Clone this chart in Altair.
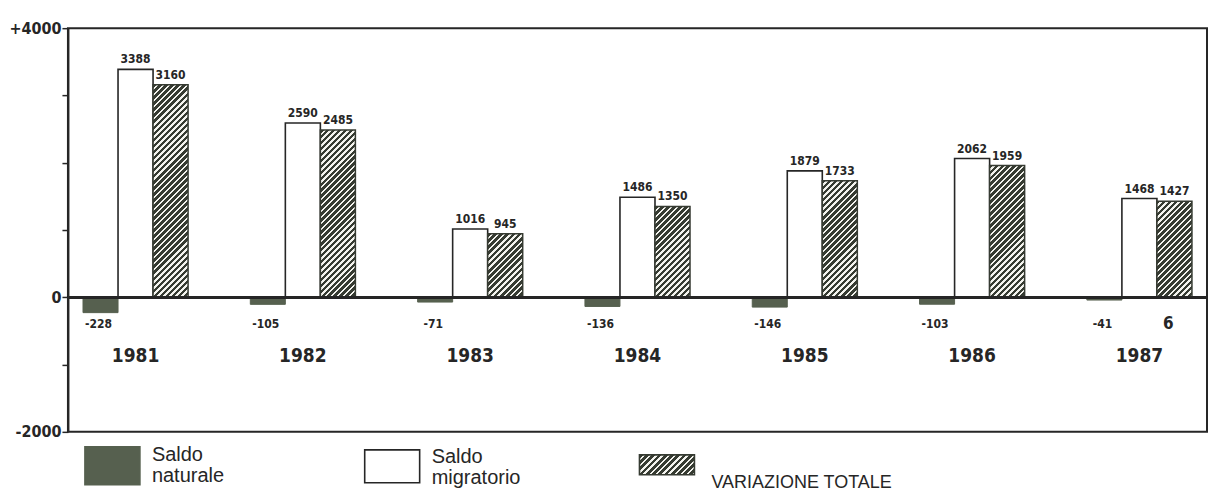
import altair as alt
import pandas as pd

# ---------------- data ----------------
years = ["1981", "1982", "1983", "1984", "1985", "1986", "1987"]
saldo_naturale = [-228, -105, -71, -136, -146, -103, -41]
saldo_migratorio = [3388, 2590, 1016, 1486, 1879, 2062, 1468]
variazione_totale = [3160, 2485, 945, 1350, 1733, 1959, 1427]
series_names = ["Saldo naturale", "Saldo migratorio", "VARIAZIONE TOTALE"]
legend_texts = ["Saldo\nnaturale", "Saldo\nmigratorio", "VARIAZIONE TOTALE"]
y_ticks = [-2000, -1000, 0, 1000, 2000, 3000, 4000]
y_tick_labels = {4000: "+4000", 0: "0", -2000: "-2000"}
note_year = "1987"
note_text = "6"

# ---------------- styling ----------------
W, H = 1140, 404
Y_MIN, Y_MAX = -2000, 4000
P_INNER, P_OUTER = 0.372, 0.09
NAT = "#56604f"
DARK = "#363b32"
LIGHT = "#f3f3ee"
INK = "#262626"
FONT_C = "Liberation Sans Narrow, DejaVu Sans Condensed, Roboto Condensed, Liberation Sans, sans-serif"
FONT_L = "Liberation Sans, Arial, sans-serif"

rows = []
for i, yr in enumerate(years):
    for s, vals in zip(series_names, [saldo_naturale, saldo_migratorio, variazione_totale]):
        rows.append({"year": yr, "series": s, "value": vals[i], "label": str(vals[i])})
df = pd.DataFrame(rows)

step = W / (len(years) - P_INNER + 2 * P_OUTER)
bar_w = step * (1 - P_INNER) / len(series_names)
px_per_unit = H / (Y_MAX - Y_MIN)


def hatch(w, h, period=6.0, frac=0.6):
    n = max(1, round((w + h) / period))
    stops = []
    for i in range(n):
        a, b, c = i / n, (i + frac) / n, (i + 1) / n
        stops += [
            {"offset": a, "color": DARK},
            {"offset": b, "color": DARK},
            {"offset": b, "color": LIGHT},
            {"offset": c, "color": LIGHT},
        ]
    d = w * w + h * h
    return {"gradient": "linear", "x1": 0, "y1": 0,
            "x2": w * (w + h) / d, "y2": h * (w + h) / d, "stops": stops}


label_expr = " : ".join(
    [f"datum.value == {k} ? '{v}'" for k, v in y_tick_labels.items()]) + " : ''"

yscale = alt.Scale(domain=[Y_MIN, Y_MAX], nice=False, zero=False)
yaxis = alt.Axis(values=y_ticks, labelExpr=label_expr, title=None, grid=False,
                 tickSize=6, tickColor=INK, tickWidth=1.5, domainColor=INK,
                 domainWidth=2, labelFont=FONT_C, labelFontSize=16,
                 labelFontWeight="bold", labelColor=INK, labelPadding=1)

X = alt.X("year:N", sort=years, axis=None,
          scale=alt.Scale(domain=years, paddingInner=P_INNER, paddingOuter=P_OUTER))
XO = alt.XOffset("series:N", sort=series_names,
                 scale=alt.Scale(domain=series_names, paddingInner=0, paddingOuter=0))

base = alt.Chart(df).encode(x=X, xOffset=XO)

nat = base.transform_filter(alt.datum.series == series_names[0]).mark_bar(
    fill=NAT, stroke=NAT, strokeWidth=1).encode(
    y=alt.Y("value:Q", scale=yscale, axis=yaxis))

mig = base.transform_filter(alt.datum.series == series_names[1]).mark_bar(
    fill="white", stroke=INK, strokeWidth=1.6).encode(
    y=alt.Y("value:Q", scale=yscale))

tot_layers = []
for yr, v in zip(years, variazione_totale):
    g = hatch(bar_w, v * px_per_unit)
    tot_layers.append(
        base.transform_filter(
            (alt.datum.series == series_names[2]) & (alt.datum.year == yr)
        ).mark_bar(fill=g, stroke=DARK, strokeWidth=1.5).encode(
            y=alt.Y("value:Q", scale=yscale))
    )

zero = alt.Chart(df).mark_rule(color=INK, strokeWidth=2).encode(y=alt.datum(0))

pos_labels = base.transform_filter(alt.datum.value > 0).mark_text(
    font=FONT_C, fontSize=12, fontWeight="bold", color=INK, baseline="bottom", dy=-3
).encode(y=alt.Y("value:Q", scale=yscale), text="label:N")

neg_labels = base.transform_filter(alt.datum.value < 0).mark_text(
    font=FONT_C, fontSize=12, fontWeight="bold", color=INK, baseline="middle", dx=-2
).encode(y=alt.datum(-400), text="label:N")

year_df = pd.DataFrame({"year": years})
year_labels = alt.Chart(year_df).mark_text(
    font=FONT_C, fontSize=19, fontWeight="bold", color=INK, baseline="middle"
).encode(x=X, y=alt.datum(-880), text="year:N")

note = alt.Chart(df).transform_filter(
    (alt.datum.series == series_names[2]) & (alt.datum.year == note_year)
).mark_text(font=FONT_C, fontSize=17, fontWeight="bold", color=INK,
            baseline="middle", dx=-6).encode(
    x=X, xOffset=XO, y=alt.datum(-400), text=alt.value(note_text))

# ---------------- manual legend below the frame ----------------
leg_df = pd.DataFrame({"item": series_names, "text": legend_texts})
leg = []
sw = [(17, 72, 419, 457), (297, 352, 422, 455), (572, 627, 427, 447)]
tx = [(84, 417, "top"), (364, 419, "top"), (644, 455, "middle")]
fills = [NAT, "white", hatch(55, 20)]
strokes = [NAT, INK, DARK]
sizes = [20, 20, 18]
for i, name in enumerate(series_names):
    x1, x2, y1, y2 = sw[i]
    leg.append(alt.Chart(leg_df).transform_filter(alt.datum.item == name).mark_rect(
        fill=fills[i], stroke=strokes[i], strokeWidth=1.6).encode(
        x=alt.value(x1), x2=alt.value(x2), y=alt.value(y1), y2=alt.value(y2)))
    lx, ly, bl = tx[i]
    leg.append(alt.Chart(leg_df).transform_filter(alt.datum.item == name).mark_text(
        font=FONT_L, fontSize=sizes[i], color=INK, align="left", baseline=bl,
        lineBreak="\n", lineHeight=21).encode(
        x=alt.value(lx), y=alt.value(ly), text="text:N"))

chart = alt.layer(nat, mig, *tot_layers, zero, pos_labels, neg_labels,
                  year_labels, note, *leg).properties(
    width=W, height=H,
    autosize=alt.AutoSizeParams(type="none"),
    padding={"left": 60, "top": 20, "right": 2, "bottom": 62},
    background="white",
).configure_view(stroke=INK, strokeWidth=2)

chart.save("out.html", embed_options={"renderer": "svg", "actions": False})
